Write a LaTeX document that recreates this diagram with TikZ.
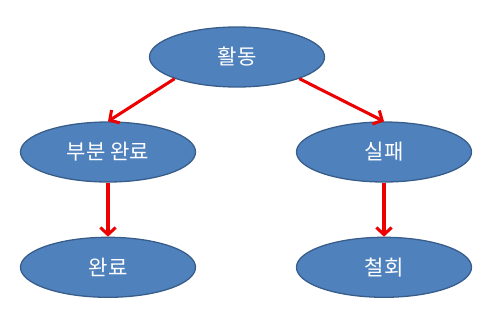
\documentclass[tikz,border=0pt]{standalone}
\usepackage{fontspec}
\newfontfamily\krfont{Noto Sans CJK KR}
\usepackage{xcolor}
\usepackage{tikz}
\usetikzlibrary{shapes.geometric, arrows.meta, positioning}
\definecolor{StateBlue}{RGB}{79, 129, 189}
\definecolor{StateEdge}{RGB}{56, 93, 138}
\definecolor{FlowRed}{RGB}{236, 0, 0}

\begin{document}
\begin{tikzpicture}[
          x=0.03cm, y=-0.03cm,
          node distance=1.62cm,
          state/.style={ellipse, draw=StateEdge, line width=1.1pt, fill=StateBlue, minimum width=5.25cm, minimum height=1.8cm, inner sep=0pt, text=white, font=\krfont\fontsize{18}{21}\selectfont},
          flow/.style={-{Straight Barb[length=6pt, width=13pt]}, draw=FlowRed, line width=2.6pt}
        ]
          \useasboundingbox (0,0) rectangle (497,330);
          \node[state] (act) at (237,57) {활동};
          \node[state] (part) at (108,152) {부분 완료};
          \node[state] (fail) at (384,152) {실패};
          \node[state, below=of part] (done) {완료};
          \node[state, below=of fail] (undo) {철회};

          \draw[flow] (act.south west) -- (part.north);
          \draw[flow] (act.south east) -- (fail.north);
          \draw[flow] (part) -- (done);
          \draw[flow] (fail) -- (undo);
        \end{tikzpicture}
\end{document}
